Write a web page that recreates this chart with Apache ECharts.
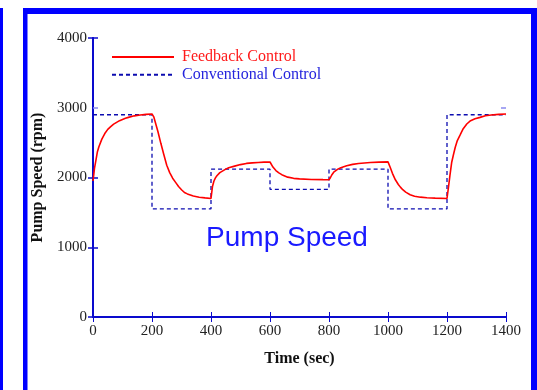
<!DOCTYPE html>
<html>
<head>
<meta charset="utf-8">
<script src="https://cdn.jsdelivr.net/npm/echarts@6/dist/echarts.min.js"></script>
<style>
html,body{margin:0;padding:0;background:#fff;}
#c{width:537px;height:390px;}
</style>
</head>
<body>
<div id="c"></div>
<script>
// ---- data ----
var stepTimes = [0, 200, 400, 600, 800, 1000, 1200, 1400];
var conventionalSpeed = [2900, 1550, 2120, 1830, 2120, 1550, 2900, 2900];

var feedbackTime = [
  0, 2, 5, 10, 15, 20, 30, 40, 50, 60, 70, 80, 90, 100, 110, 120, 140, 160, 180, 200,
  203, 206, 210, 215, 220, 230, 240, 250, 260, 270, 280, 290, 300, 310, 320, 340, 360, 380, 400,
  402, 405, 410, 415, 420, 430, 440, 450, 460, 480, 500, 520, 540, 560, 580, 600,
  602, 610, 620, 630, 640, 660, 680, 700, 740, 780, 800,
  802, 805, 810, 816, 820, 830, 840, 860, 880, 900, 920, 940, 970, 1000,
  1002, 1008, 1015, 1025, 1035, 1042, 1050, 1060, 1075, 1090, 1110, 1132, 1160, 1200,
  1202, 1205, 1210, 1216, 1222, 1228, 1235, 1245, 1255, 1267, 1280, 1295, 1312, 1330, 1350, 1375, 1400
];
var feedbackSpeed = [
  1950, 2020, 2130, 2250, 2370, 2440, 2550, 2630, 2690, 2730, 2765, 2790, 2815, 2832, 2848, 2862, 2884, 2897, 2905, 2910,
  2905, 2870, 2810, 2735, 2660, 2490, 2330, 2175, 2070, 1990, 1930, 1870, 1825, 1785, 1765, 1735, 1718, 1708, 1700,
  1720, 1870, 1950, 1995, 2025, 2070, 2095, 2120, 2140, 2163, 2185, 2202, 2210, 2215, 2220, 2222,
  2215, 2150, 2100, 2066, 2041, 2005, 1988, 1980, 1972, 1969, 1968,
  1975, 2000, 2040, 2076, 2095, 2120, 2140, 2168, 2188, 2200, 2208, 2214, 2220, 2224,
  2215, 2140, 2060, 1967, 1900, 1862, 1825, 1790, 1753, 1732, 1718, 1710, 1704, 1700,
  1720, 1860, 2030, 2219, 2330, 2433, 2530, 2614, 2700, 2767, 2815, 2843, 2862, 2885, 2897, 2905, 2910
];

var xTicks = {min: 0, max: 1400, interval: 200};
var yTicks = {min: 0, max: 4000, interval: 1000};
var yDarkTicks = [0, 1000, 2000, 4000];
var yLightTicks = [3000];

// ---- chart ----
var axisColor = '#0a0acd';
var lightTick = '#8a8af0';
var serif = '"Liberation Serif", "Times New Roman", serif';

function zip(a, b) { return a.map(function (v, i) { return [v, b[i]]; }); }
function plain(v) { return String(v); }

function xAx(pos, withLabels) {
  return {
    type: 'value', position: pos, min: xTicks.min, max: xTicks.max, interval: xTicks.interval,
    axisLine: {show: true, lineStyle: {color: axisColor, width: 2}},
    axisTick: {show: true, inside: true, length: 5, lineStyle: {color: axisColor, width: 1}},
    axisLabel: {show: withLabels, color: '#222', fontFamily: serif, fontSize: 15, margin: 7, formatter: plain},
    splitLine: {show: false},
    name: withLabels ? 'Time (sec)' : '',
    nameLocation: 'middle', nameGap: 34,
    nameTextStyle: {color: '#111', fontFamily: serif, fontSize: 16, fontWeight: 'bold'}
  };
}
function yAx(pos, withLabels, ticks, tickColor, showLine) {
  return {
    type: 'value', position: pos, min: yTicks.min, max: yTicks.max, interval: yTicks.interval,
    axisLine: {show: showLine, lineStyle: {color: axisColor, width: 2}},
    axisTick: {show: true, inside: true, length: 5, customValues: ticks, lineStyle: {color: tickColor, width: 1.5}},
    axisLabel: {show: withLabels, color: '#222', fontFamily: serif, fontSize: 15, margin: 6, formatter: plain},
    splitLine: {show: false},
    name: withLabels ? 'Pump Speed (rpm)' : '',
    nameLocation: 'middle', nameGap: 44,
    nameTextStyle: {color: '#111', fontFamily: serif, fontSize: 16, fontWeight: 'bold'}
  };
}

var chart = echarts.init(document.getElementById('c'), null, {renderer: 'canvas'});
chart.setOption({
  backgroundColor: '#fff',
  animation: false,
  grid: {left: 93, right: 31, top: 38, bottom: 73, containLabel: false},
  legend: {
    orient: 'vertical', left: 106, top: 44, itemWidth: 62, itemHeight: 14, itemGap: 1.8,
    itemStyle: {opacity: 0},
    textStyle: {fontFamily: serif, fontSize: 16, padding: [0, 0, 0, 3]},
    data: [
      {name: 'Feedback Control', textStyle: {color: '#ff1a1a'}},
      {name: 'Conventional Control', textStyle: {color: '#2525dd'}}
    ]
  },
  xAxis: [xAx('bottom', true), xAx('top', false)],
  yAxis: [
    yAx('left', true, yDarkTicks, axisColor, true),
    yAx('right', false, yDarkTicks, axisColor, true),
    yAx('left', false, yLightTicks, lightTick, false),
    yAx('right', false, yLightTicks, lightTick, false)
  ],
  series: [
    {
      name: 'Feedback Control', type: 'line', xAxisIndex: 0, yAxisIndex: 0,
      data: zip(feedbackTime, feedbackSpeed), symbol: 'none', smooth: false,
      lineStyle: {color: '#ff0000', width: 1.6}, itemStyle: {color: '#ff0000'}, z: 3
    },
    {
      name: 'Conventional Control', type: 'line', xAxisIndex: 0, yAxisIndex: 0,
      data: zip(stepTimes, conventionalSpeed), step: 'end', symbol: 'none',
      lineStyle: {color: '#0c0cb0', width: 1.3, type: [4, 3]}, itemStyle: {color: '#0c0cb0'}, z: 2
    }
  ],
  graphic: [
    {type: 'rect', shape: {x: 0, y: 8, width: 3, height: 382}, style: {fill: '#0000ff'}},
    {type: 'rect', shape: {x: 23, y: 8, width: 4.5, height: 382}, style: {fill: '#0000ff'}},
    {type: 'rect', shape: {x: 23, y: 8, width: 514, height: 6}, style: {fill: '#0000ff'}},
    {type: 'rect', shape: {x: 531, y: 8, width: 6, height: 382}, style: {fill: '#0000ff'}},
    {type: 'text', x: 287, y: 238, style: {text: 'Pump Speed', fill: '#1a1aff', fontSize: 28,
      fontFamily: '"Liberation Sans", Arial, sans-serif', align: 'center', verticalAlign: 'middle'}}
  ]
});
</script>
</body>
</html>
